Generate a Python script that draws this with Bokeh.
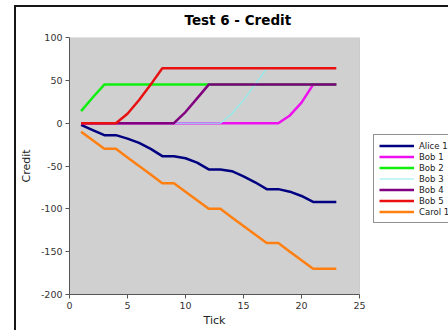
from bokeh.plotting import figure
from bokeh.models import Range1d, FixedTicker, Legend, LegendItem, BoxAnnotation, Title
from bokeh.embed import file_html
from bokeh.resources import INLINE

ticks = list(range(1, 24))
alice_1 = [-2, -8, -14, -14, -18, -23, -30, -38.5, -38.5, -41, -46, -54, -54, -56, -62, -69, -77, -77, -80, -85, -92, -92, -92]
bob_1 = [0] * 18 + [9, 24, 45, 45, 45]
bob_2 = [14, 30] + [45] * 21
bob_3 = [0] * 13 + [11, 27, 45] + [64] * 7
bob_4 = [0] * 9 + [13, 29] + [45] * 12
bob_5 = [0] * 4 + [11, 27, 45] + [64] * 16
carol_1 = [-10, -20, -30, -30, -40, -50, -60, -70, -70, -80, -90, -100, -100, -110, -120, -130, -140, -140, -150, -160, -170, -170, -170]

series_names = ["Alice 1", "Bob 1", "Bob 2", "Bob 3", "Bob 4", "Bob 5", "Carol 1"]
series_values = [alice_1, bob_1, bob_2, bob_3, bob_4, bob_5, carol_1]
series_colors = ["#000080", "#ee10ee", "#10ee10", "#90eeee", "#800080", "#e81010", "#ff7f10"]
series_widths = [2.5, 2.5, 2.5, 1.2, 2.5, 2.5, 2.5]

x_min, x_max = 0, 25
y_min, y_max = -200, 100
x_ticks = [0, 5, 10, 15, 20, 25]
x_tick_labels = ["0", "5", "10", "15", "20", "25"]
y_ticks = [-200, -150, -100, -50, 0, 50, 100]
y_tick_labels = ["-200", "-150", "-100", "-50", "0", "50", "100"]

FONT = "DejaVu Sans"

# layout (pixels): axes box spans 69..359 horizontally; the drawing frame is
# stretched to the right edge so the legend can sit beside the axes box.
W, H = 448, 330
AX_LEFT, AX_RIGHT = 69, 359
frame_end = x_min + (x_max - x_min) * (W - AX_LEFT) / (AX_RIGHT - AX_LEFT)

# outer window edge (dark lines at left and top), painted behind a transparent border
edge_bg = ("linear-gradient(#161616, #161616) 14px 5px / 2px 340px no-repeat, "
           "linear-gradient(#161616, #161616) 14px 5px / 440px 2px no-repeat, #ffffff")

p = figure(width=W, height=H, output_backend="svg", toolbar_location=None,
           x_range=Range1d(x_min, frame_end), y_range=Range1d(y_min, y_max),
           title="Test 6 - Credit",
           min_border_left=AX_LEFT, min_border_right=0, min_border_top=37, min_border_bottom=36,
           styles={"background": edge_bg})

p.background_fill_color = "white"
p.border_fill_color = None
p.outline_line_color = None
p.xgrid.visible = False
p.ygrid.visible = False

axes_box = BoxAnnotation(left=x_min, right=x_max, bottom=y_min, top=y_max,
                         fill_color="#d0d0d0", fill_alpha=1,
                         line_color="#8a8a8a", line_width=1, level="underlay")
p.add_layout(axes_box)

p.title.text_font = FONT
p.title.text_font_size = "13.5px"
p.title.text_font_style = "bold"
p.title.align = "left"
p.title.offset = 115
p.title.text_color = "black"
p.title.standoff = 19

for ax, tk, tl in ((p.xaxis[0], x_ticks, x_tick_labels), (p.yaxis[0], y_ticks, y_tick_labels)):
    ax.ticker = FixedTicker(ticks=tk)
    ax.major_label_overrides = {t: s for t, s in zip(tk, tl)}
    ax.major_tick_out = 4
    ax.major_tick_in = 0
    ax.minor_tick_line_color = None
    ax.axis_line_color = "#555555"
    ax.major_tick_line_color = "#555555"
    ax.major_label_text_font = FONT
    ax.major_label_text_font_size = "9.5px"
    ax.major_label_text_color = "#333333"
    ax.major_label_standoff = 3
    ax.axis_label_text_font = FONT
    ax.axis_label_text_font_size = "11px"
    ax.axis_label_text_font_style = "normal"
    ax.axis_label_text_color = "#222222"

p.xaxis.bounds = (x_min, x_max)
p.yaxis.bounds = (y_min, y_max)
p.yaxis.axis_label = "Credit"
p.yaxis.axis_label_standoff = 5

# x-axis title placed under the axes box (centred on 0..25, not on the stretched frame)
x_title = Title(text="Tick", align="left", offset=134, standoff=1,
                text_font=FONT, text_font_size="11px", text_font_style="normal",
                text_color="#222222")
p.add_layout(x_title, "below")

items = []
for name, vals, col, lw in zip(series_names, series_values, series_colors, series_widths):
    r = p.line(ticks, vals, line_color=col, line_width=lw)
    items.append(LegendItem(label=name, renderers=[r]))

legend = Legend(items=items, location=(304, 71))
legend.label_text_font = FONT
legend.label_text_font_size = "8.5px"
legend.label_text_color = "#222222"
legend.label_height = 11
legend.glyph_height = 11
legend.glyph_width = 35
legend.label_standoff = 5
legend.spacing = 0
legend.padding = 5
legend.margin = 0
legend.border_line_color = "#222222"
legend.border_line_width = 1
legend.background_fill_color = "white"
legend.background_fill_alpha = 1
p.add_layout(legend, "center")

open("out.html", "w").write(file_html(p, INLINE))
